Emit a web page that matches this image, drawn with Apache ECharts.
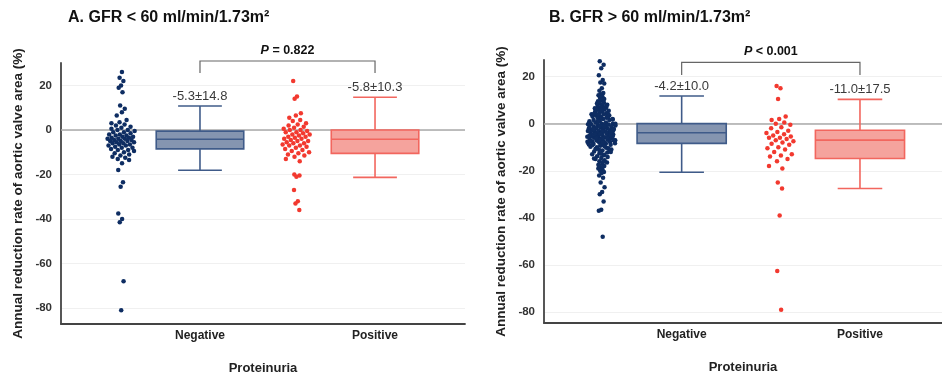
<!DOCTYPE html>
<html><head><meta charset="utf-8">
<script src="https://cdn.jsdelivr.net/npm/echarts@6/dist/echarts.min.js"></script>
<style>html,body{margin:0;padding:0;background:#fff}#c{width:942px;height:375px}</style>
</head><body><div id="c"></div>
<script>
// ---------------- DATA ----------------
const categories = ['Negative', 'Positive'];
const panelTitles = ['A. GFR < 60 ml/min/1.73m\u00b2', 'B. GFR > 60 ml/min/1.73m\u00b2'];
const yAxisName = 'Annual reduction rate of aortic valve area (%)';
const xAxisName = 'Proteinuria';
const pValueText = ['= 0.822', '< 0.001'];
const summaryA = ['-5.3\u00b114.8', '-5.8\u00b110.3'];
const summaryB = ['-4.2\u00b110.0', '-11.0\u00b117.5'];
const yTicks = [-80, -60, -40, -20, 0, 20];

// box statistics: [lower whisker, Q1, median, Q3, upper whisker]
const boxA_neg = [-18.1, -8.5, -4.2, -0.5, 10.8];
const boxA_pos = [-21.3, -10.5, -4.2, 0.0, 14.7];
const boxB_neg = [-20.6, -8.4, -3.9, 0.0, 11.7];
const boxB_pos = [-27.5, -14.8, -7.0, -2.8, 10.3];

const ptsA_neg = [31.5,26,23.5,22,20,19,17,11,9.5,8,6.5,4.5,3.5,3,2.5,2,1.5,1,0.5,0,0,-0.5,-1,-1,-1.5,-2,-2,-2.5,-2.5,-3,-3,-3.5,-3.5,-4,-4,-4,-4.5,-4.5,-5,-5,-5,-5.5,-5.5,-6,-6,-6.5,-6.5,-7,-7,-7.5,-8,-8,-8.5,-9,-9,-9.5,-10,-10.5,-11,-11.5,-12,-12.5,-13,-13.5,-15,-18,-23.5,-25.5,-37.5,-40,-41.5,-68,-81];
const ptsA_pos = [22,15,14,7.5,6.5,5.5,4.5,4,3,2.5,2,1.5,1,0.5,0,0,-0.5,-1,-1,-1.5,-2,-2,-2.5,-3,-3,-3.5,-4,-4,-4.5,-5,-5,-5.5,-6,-6,-6.5,-7,-7,-7.5,-8,-8.5,-9,-9.5,-10,-10.5,-11,-11.5,-12,-13,-14,-20,-20.5,-21,-27,-32,-33,-36];
const ptsB_neg = [28.5,27.5,26.5,25,23.5,20.5,18.5,17.5,17,15,14,13,12.5,12,11.5,11,10.5,
 10,9.5,9,8.5,8,8,7.5,7,7,6.5,6,6,5.5,5,5,4.5,4.5,4,4,3.5,3.5,3,3,2.5,2.5,2,2,1.5,1.5,1,1,0.5,0.5,0,0,
 -0.2,-0.4,-0.6,-0.8,-1,-1.2,-1.4,-1.6,-1.8,-2,-2.1,-2.3,-2.5,-2.6,-2.8,-3,-3.1,-3.3,-3.4,-3.6,-3.7,-3.8,-3.9,-4,-0.5,-1.5,-2.5,-3.5,-1,-2,
 -4.2,-4.4,-4.6,-4.8,-5,-5.2,-5.4,-5.6,-5.8,-6,-6.2,-6.4,-6.6,-6.8,-7,-7.2,-7.4,-7.6,-7.8,-8,-8.2,-8.4,-4.5,-5.5,-6.5,-7.5,-5,-6,-7,-8,
 -8.6,-9,-9.4,-9.8,-10.2,-10.6,-11,-11.4,-11.8,-12.2,-12.6,-13,-13.4,-13.8,-14.2,-14.6,-15,-15.5,-16,-16.5,-17,-17.5,-18,-18.5,-19,-19.5,-20,-20.5,-21,-22,-23,-25,-27,-29,-30,-33,-36.5,-37,-48,-10,-12,
 7,5,3,1,-0.3,-1.3,-2.2,-3.2,-4.3,-5.3,-6.3,-7.3,-8.3,-9.3,6,4,2,0.2,-0.7,-1.7,-2.7,-3.3,-4.7,-5.7,-6.7,-7.7,-9.6,-10.8,-11.6,-12.8,8.5,6.5,3.8,1.8,-0.9,-2.9,-4.9,-6.9,-8.9,-13.2,
 9.2,7.8,5.8,4.2,2.8,1.2,-0.1,-1.1,-2.4,-3.6,-4.4,-5.1,-5.9,-6.1,-7.1,-8.1,-9.1,-10.4,-11.2,-14.8,-16.2,-17.8];
const ptsB_pos = [16,15,10.5,3,2,1.5,0.5,0,-0.5,-1.5,-2,-3,-3.5,-4,-4.5,-5,-5.5,-6,-6,-6.5,-7,-7.5,-8,-8.5,-9,-10,-10.5,-11,-12,-13,-13.5,-14,-15,-16,-18,-19,-25,-27.5,-39,-62.5,-79];

// ---------------- STYLE / LAYOUT ----------------
const FONT = 'Liberation Sans, Arial, sans-serif';
const navy = '#0e2d62', red = '#f2392f';
const negStyle = {fill: '#8595b0', stroke: '#3f5b89'};
const posStyle = {fill: '#f5a39d', stroke: '#f2665e'};
const stripOffset = -0.45;
const jitterWidth = 0.16;

// horizontal spread of the strip: full width inside the box, narrowing for points far outside it
function jitter(i, v, box) {
  const f = (i * 0.6180339887) % 1;
  const d = v > box[3] ? v - box[3] : (v < box[1] ? box[1] - v : 0);
  const k = Math.max(0.22, 1 - d / 14);
  return (f - 0.5) * jitterWidth * k;
}
function stripData(vals, center, box) { return vals.map((v, i) => [center + stripOffset + jitter(i, v, box), v]); }

function scatterSeries(g, vals, center, box, color, withZero) {
  const s = {type: 'scatter', xAxisIndex: g, yAxisIndex: g, symbolSize: 4.5, z: 3,
    itemStyle: {color: color, opacity: 1}, data: stripData(vals, center, box), silent: true};
  if (withZero) {
    s.markLine = {silent: true, symbol: 'none', z: 1, label: {show: false},
      lineStyle: {color: '#aaaaaa', width: 1.5, type: 'solid'}, data: [{yAxis: 0}]};
  }
  return s;
}

function boxSeries(g, center, stats, st, label) {
  return {
    type: 'custom', xAxisIndex: g, yAxisIndex: g, clip: false, z: 4, silent: true,
    encode: {x: 0, y: [1, 2, 3, 4, 5]},
    data: [[center].concat(stats)],
    renderItem: function (params, api) {
      const x = api.value(0);
      const lo = api.coord([x, api.value(1)]);
      const q1 = api.coord([x, api.value(2)]);
      const md = api.coord([x, api.value(3)]);
      const q3 = api.coord([x, api.value(4)]);
      const hi = api.coord([x, api.value(5)]);
      const w = api.size([0.5, 0])[0];
      const cw = api.size([0.25, 0])[0];
      const cx = lo[0];
      const ls = {stroke: st.stroke, lineWidth: 1.6, fill: null};
      return {type: 'group', children: [
        {type: 'line', shape: {x1: cx, y1: q3[1], x2: cx, y2: hi[1]}, style: ls},
        {type: 'line', shape: {x1: cx - cw / 2, y1: hi[1], x2: cx + cw / 2, y2: hi[1]}, style: ls},
        {type: 'line', shape: {x1: cx, y1: q1[1], x2: cx, y2: lo[1]}, style: ls},
        {type: 'line', shape: {x1: cx - cw / 2, y1: lo[1], x2: cx + cw / 2, y2: lo[1]}, style: ls},
        {type: 'rect', shape: {x: cx - w / 2, y: q3[1], width: w, height: q1[1] - q3[1]},
          style: {fill: st.fill, stroke: st.stroke, lineWidth: 1.6}},
        {type: 'line', shape: {x1: cx - w / 2, y1: md[1], x2: cx + w / 2, y2: md[1]}, style: ls},
        {type: 'text', x: cx, y: hi[1] - 10, style: {text: label, fill: '#3a3a3a', fontSize: 13,
          fontFamily: FONT, align: 'center', verticalAlign: 'middle'}}
      ]};
    }
  };
}

function bracketSeries(g, lvl, ptxt) {
  return {
    type: 'custom', xAxisIndex: g, yAxisIndex: g, clip: false, z: 5, silent: true,
    encode: {x: [0, 1], y: 2},
    data: [[1, 2, lvl.top, lvl.leg, lvl.text]],
    renderItem: function (params, api) {
      const a = api.coord([api.value(0), api.value(2)]);
      const b = api.coord([api.value(1), api.value(2)]);
      const legY = api.coord([1, api.value(3)])[1];
      const txtY = api.coord([1, api.value(4)])[1];
      return {type: 'group', children: [
        {type: 'polyline', shape: {points: [[a[0], legY], [a[0], a[1]], [b[0], b[1]], [b[0], legY]]},
          style: {stroke: '#666', lineWidth: 1.2, fill: null}},
        {type: 'text', x: (a[0] + b[0]) / 2, y: txtY, style: {
          text: '{i|P} ' + ptxt, fill: '#111', fontSize: 12.5, fontWeight: 'bold', fontFamily: FONT,
          align: 'center', verticalAlign: 'middle',
          rich: {i: {fontStyle: 'italic', fontWeight: 'bold', fontSize: 12.5, fontFamily: FONT, fill: '#111'}}}}
      ]};
    }
  };
}

function xAxisCfg(g, min, max) {
  return {type: 'value', gridIndex: g, min: min, max: max,
    axisLine: {show: true, onZero: false, lineStyle: {color: '#444', width: 1.8}},
    axisTick: {show: false, customValues: [1, 2]},
    axisLabel: {customValues: [1, 2], formatter: v => categories[Math.round(v) - 1],
      fontWeight: 'bold', fontSize: 12, color: '#222', fontFamily: FONT, margin: 6},
    splitLine: {show: false},
    name: xAxisName, nameLocation: 'middle', nameGap: 38,
    nameTextStyle: {fontWeight: 'bold', fontSize: 13, color: '#222', fontFamily: FONT}};
}
function yAxisCfg(g, min, max) {
  return {type: 'value', gridIndex: g, min: min, max: max,
    axisLine: {show: true, onZero: false, lineStyle: {color: '#444', width: 1.8}},
    axisTick: {show: false, customValues: yTicks},
    axisLabel: {customValues: yTicks, fontWeight: 'bold', fontSize: 11.5, color: '#333', fontFamily: FONT, margin: 9},
    splitLine: {show: true, lineStyle: {color: '#f0f0f0', width: 1}},
    name: yAxisName, nameLocation: 'middle', nameGap: 36,
    nameTextStyle: {fontWeight: 'bold', fontSize: 13.5, color: '#222', fontFamily: FONT}};
}

const chart = echarts.init(document.getElementById('c'), null, {renderer: 'canvas'});
chart.setOption({
  animation: false,
  backgroundColor: '#fff',
  title: [
    {text: panelTitles[0], left: 68, top: 10, padding: 0,
      textStyle: {fontSize: 16, fontWeight: 'bold', color: '#111', fontFamily: FONT}},
    {text: panelTitles[1], left: 549, top: 10, padding: 0,
      textStyle: {fontSize: 16, fontWeight: 'bold', color: '#111', fontFamily: FONT}}
  ],
  grid: [
    {left: 61, top: 63, width: 404, height: 261, outerBoundsMode: 'none'},
    {left: 544, top: 60, width: 398, height: 263, outerBoundsMode: 'none'}
  ],
  xAxis: [xAxisCfg(0, 0.206, 2.514), xAxisCfg(1, 0.228, 2.46)],
  yAxis: [yAxisCfg(0, -87.2, 30.1), yAxisCfg(1, -84.6, 27)],
  series: [
    scatterSeries(0, ptsA_neg, 1, boxA_neg, navy, true),
    scatterSeries(0, ptsA_pos, 2, boxA_pos, red, false),
    boxSeries(0, 1, boxA_neg, negStyle, summaryA[0]),
    boxSeries(0, 2, boxA_pos, posStyle, summaryA[1]),
    bracketSeries(0, {top: 31, leg: 25.6, text: 35.6}, pValueText[0]),
    scatterSeries(1, ptsB_neg, 1, boxB_neg, navy, true),
    scatterSeries(1, ptsB_pos, 2, boxB_pos, red, false),
    boxSeries(1, 1, boxB_neg, negStyle, summaryB[0]),
    boxSeries(1, 2, boxB_pos, posStyle, summaryB[1]),
    bracketSeries(1, {top: 26, leg: 20.6, text: 30.5}, pValueText[1])
  ]
});
</script></body></html>
